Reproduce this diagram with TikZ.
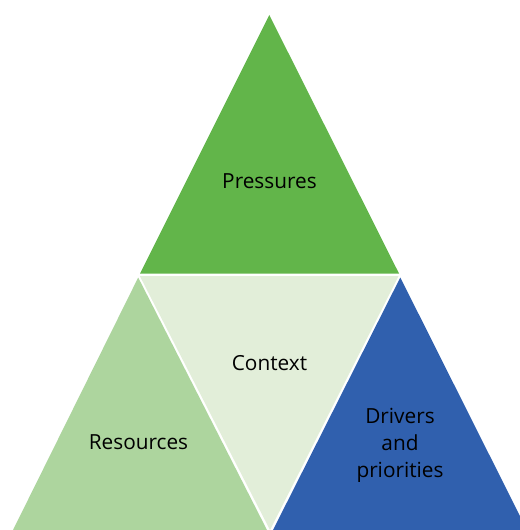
\documentclass[tikz,border=0pt]{standalone}
\usepackage{fontspec}
\setmainfont{Open Sans}
\definecolor{topgreen}{HTML}{62B54A}
\definecolor{midgreen}{HTML}{E2EED9}
\definecolor{leftgreen}{HTML}{ADD59E}
\definecolor{rightblue}{HTML}{3060AE}
\begin{document}
\begin{tikzpicture}[x=0.75pt,y=-0.75pt,
  lbl/.style={font=\fontsize{15.6}{20.3}\selectfont, text=black, align=center, inner sep=0pt}]
\useasboundingbox (0,0) rectangle (519,530);
\fill[topgreen] (269.3,15) -- (140,273.5) -- (399,273.5) -- cycle;
\fill[midgreen] (139.8,276) -- (398.6,276) -- (270,530) -- cycle;
\fill[leftgreen] (138.2,277.5) -- (13,530) -- (267,530) -- cycle;
\fill[rightblue] (400.3,277.5) -- (273,530) -- (527,530) -- cycle;
\node[lbl] (pressures) at (269.5,181) {Pressures};
\node[lbl] (context) at (269.5,363.5) {Context};
\node[lbl] (resources) at (138.5,442.5) {Resources};
\node[lbl] (drivers) at (400,445.5) {Drivers\\and\\priorities};
\end{tikzpicture}
\end{document}
